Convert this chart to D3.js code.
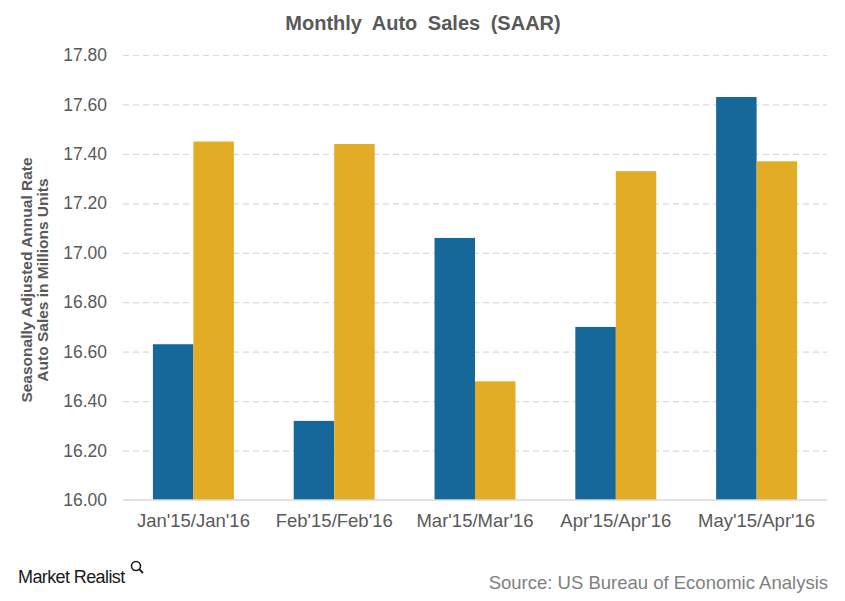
<!DOCTYPE html>
<html><head><meta charset="utf-8">
<script src="https://cdn.jsdelivr.net/npm/d3@7"></script>
<style>body{margin:0;background:#fff}svg{display:block;font-family:"Liberation Sans",Arial,sans-serif}</style>
</head><body><svg id="c" width="845" height="601"></svg>
<script>
const categories = ["Jan'15/Jan'16","Feb'15/Feb'16","Mar'15/Mar'16","Apr'15/Apr'16","May'15/Apr'16"];
const series2015 = [16.63, 16.32, 17.06, 16.70, 17.63];
const series2016 = [17.45, 17.44, 16.48, 17.33, 17.37];
const yTicks = [16.00,16.20,16.40,16.60,16.80,17.00,17.20,17.40,17.60,17.80];
const colors = ["#156899", "#e2ad24"];

(function(){
const svg = d3.select("#c");
const mL = 123, mR = 827, mT = 55, mB = 500;
const x0 = d3.scaleBand().domain(categories).range([mL, mR]).paddingInner(0.425).paddingOuter(0.2125);
const x1 = d3.scaleBand().domain([0,1]).range([0, x0.bandwidth()]);
const y = d3.scaleLinear().domain([16, 17.8]).range([mB, mT]);

// gridlines
const grid = svg.append("g").attr("transform", `translate(${mL},0)`)
  .call(d3.axisLeft(y).tickValues(yTicks.slice(1)).tickSize(-(mR-mL)).tickFormat(""));
grid.select(".domain").remove();
grid.selectAll("line").attr("stroke","#d9d9d9").attr("stroke-dasharray","6,4").attr("stroke-width",1.2);

// bars
const data = categories.map((c,i)=>({c, v:[series2015[i], series2016[i]]}));
svg.append("g").selectAll("g").data(data).join("g")
  .attr("transform", d=>`translate(${x0(d.c)},0)`)
  .selectAll("rect").data(d=>d.v.map((v,k)=>({v,k}))).join("rect")
  .attr("x", d=>x1(d.k)).attr("width", x1.bandwidth())
  .attr("y", d=>y(d.v)).attr("height", d=>y(16)-y(d.v))
  .attr("fill", d=>colors[d.k]);

// baseline
svg.append("line").attr("x1",mL).attr("x2",mR).attr("y1",y(16)).attr("y2",y(16))
  .attr("stroke","#d9d9d9").attr("stroke-width",1.5);

// y axis labels
const ya = svg.append("g").attr("transform",`translate(${mL},0)`)
  .call(d3.axisLeft(y).tickValues(yTicks).tickSize(0).tickPadding(16).tickFormat(d3.format(".2f")));
ya.select(".domain").remove();
ya.selectAll("text").attr("font-size",17.5).attr("fill","#595959").attr("font-family","'Liberation Sans',Arial,sans-serif");

// x axis labels
const xa = svg.append("g").attr("transform",`translate(0,${mB})`)
  .call(d3.axisBottom(x0).tickSize(0).tickPadding(14));
xa.select(".domain").remove();
xa.selectAll("text").attr("font-size",18.5).attr("fill","#595959").attr("font-family","'Liberation Sans',Arial,sans-serif");

// title
svg.append("text").attr("x",423).attr("y",30).attr("text-anchor","middle")
  .attr("font-size",20).attr("font-weight","bold").attr("fill","#595959").attr("word-spacing",5)
  .text("Monthly Auto Sales (SAAR)");

// y title
const yt = svg.append("text").attr("transform","translate(0,280) rotate(-90)")
  .attr("text-anchor","middle").attr("font-size",15.5).attr("font-weight","bold").attr("fill","#595959");
yt.append("tspan").attr("x",0).attr("y",32).text("Seasonally Adjusted Annual Rate");
yt.append("tspan").attr("x",0).attr("y",48).text("Auto Sales in Millions Units");

// footer
svg.append("text").attr("x",18).attr("y",583).attr("font-size",18).attr("fill","#1a1a1a")
  .attr("letter-spacing",-0.6).text("Market Realist");
const g = svg.append("g").attr("transform","translate(136,566)");
g.append("circle").attr("r",4.5).attr("fill","none").attr("stroke","#1a1a1a").attr("stroke-width",1.6);
g.append("line").attr("x1",3.2).attr("y1",3.2).attr("x2",7).attr("y2",7).attr("stroke","#1a1a1a").attr("stroke-width",1.8);
svg.append("text").attr("x",828).attr("y",589).attr("text-anchor","end").attr("font-size",18.5).attr("fill","#7f7f7f")
  .text("Source: US Bureau of Economic Analysis");
})();
</script></body></html>
